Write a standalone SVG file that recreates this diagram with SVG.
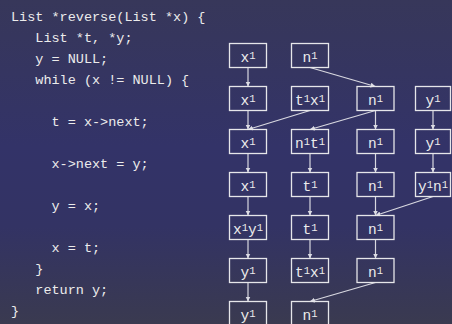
<svg xmlns="http://www.w3.org/2000/svg" width="452" height="324" viewBox="0 0 452 324">
<defs>
<linearGradient id="bg" x1="0" y1="0" x2="0" y2="1">
<stop offset="0" stop-color="#37375a"/>
<stop offset="0.45" stop-color="#333368"/>
<stop offset="0.7" stop-color="#333364"/>
<stop offset="1" stop-color="#3a3a50"/>
</linearGradient>
<marker id="ah" markerUnits="userSpaceOnUse" markerWidth="8" markerHeight="8" refX="5" refY="2.5" orient="auto">
<path d="M0,0 L5,2.5 L0,5 Z" fill="#dcdce4"/>
</marker>
</defs>
<style>
.code{font-family:"Liberation Mono","DejaVu Sans Mono",monospace;font-size:13.5px;fill:#ececec}
.box rect{fill:none;stroke:#e6e6ea;stroke-width:1.3}
.box text{font-family:"Liberation Mono","DejaVu Sans Mono",monospace;font-size:14.5px;fill:#ececec;text-anchor:middle}
.sup{font-size:10.5px}
#edges line{stroke:#d8d8e0;stroke-width:1.2;marker-end:url(#ah)}
</style>
<rect x="0" y="0" width="452" height="324" fill="url(#bg)"/>
<g id="code">
<text class="code" x="11" y="20.7">List *reverse(List *x) {</text>
<text class="code" x="35.3" y="41.7">List *t, *y;</text>
<text class="code" x="35.3" y="62.7">y = NULL;</text>
<text class="code" x="35.3" y="83.7">while (x != NULL) {</text>
<text class="code" x="51.5" y="125.7">t = x-&gt;next;</text>
<text class="code" x="51.5" y="167.7">x-&gt;next = y;</text>
<text class="code" x="51.5" y="209.7">y = x;</text>
<text class="code" x="51.5" y="251.7">x = t;</text>
<text class="code" x="35.3" y="272.7">}</text>
<text class="code" x="35.3" y="293.7">return y;</text>
<text class="code" x="11" y="314.7">}</text>
</g>
<g id="edges">
<line x1="248" y1="67.5" x2="248" y2="86.5"/>
<line x1="310" y1="67.5" x2="375.5" y2="86.5"/>
<line x1="248" y1="110.5" x2="248" y2="129.5"/>
<line x1="310" y1="110.5" x2="248" y2="129.5"/>
<line x1="375.5" y1="110.5" x2="310" y2="129.5"/>
<line x1="375.5" y1="110.5" x2="375.5" y2="129.5"/>
<line x1="433" y1="110.5" x2="433" y2="129.5"/>
<line x1="248" y1="153.5" x2="248" y2="172.5"/>
<line x1="310" y1="153.5" x2="310" y2="172.5"/>
<line x1="375.5" y1="153.5" x2="375.5" y2="172.5"/>
<line x1="433" y1="153.5" x2="433" y2="172.5"/>
<line x1="248" y1="196.5" x2="248" y2="215.5"/>
<line x1="310" y1="196.5" x2="310" y2="215.5"/>
<line x1="375.5" y1="196.5" x2="375.5" y2="215.5"/>
<line x1="433" y1="196.5" x2="375.5" y2="215.5"/>
<line x1="248" y1="239.5" x2="248" y2="258.5"/>
<line x1="310" y1="239.5" x2="310" y2="258.5"/>
<line x1="375.5" y1="239.5" x2="375.5" y2="258.5"/>
<line x1="248" y1="282.5" x2="248" y2="301.5"/>
<line x1="375.5" y1="282.5" x2="310" y2="301.5"/>
</g>
<g id="r1c1" class="box"><rect x="229.5" y="43.5" width="37" height="24"/><text x="248" y="62">x<tspan class="sup" dy="-3">1</tspan></text></g>
<g id="r1c2" class="box"><rect x="291.5" y="43.5" width="37" height="24"/><text x="310" y="62">n<tspan class="sup" dy="-3">1</tspan></text></g>
<g id="r2c1" class="box"><rect x="229.5" y="86.5" width="37" height="24"/><text x="248" y="105">x<tspan class="sup" dy="-3">1</tspan></text></g>
<g id="r2c2" class="box"><rect x="291.5" y="86.5" width="37" height="24"/><text x="310" y="105">t<tspan class="sup" dy="-3">1</tspan><tspan dy="3">x</tspan><tspan class="sup" dy="-3">1</tspan></text></g>
<g id="r2c3" class="box"><rect x="357" y="86.5" width="37" height="24"/><text x="375.5" y="105">n<tspan class="sup" dy="-3">1</tspan></text></g>
<g id="r2c4" class="box"><rect x="415.5" y="86.5" width="35" height="24"/><text x="433" y="105">y<tspan class="sup" dy="-3">1</tspan></text></g>
<g id="r3c1" class="box"><rect x="229.5" y="129.5" width="37" height="24"/><text x="248" y="148">x<tspan class="sup" dy="-3">1</tspan></text></g>
<g id="r3c2" class="box"><rect x="291.5" y="129.5" width="37" height="24"/><text x="310" y="148">n<tspan class="sup" dy="-3">1</tspan><tspan dy="3">t</tspan><tspan class="sup" dy="-3">1</tspan></text></g>
<g id="r3c3" class="box"><rect x="357" y="129.5" width="37" height="24"/><text x="375.5" y="148">n<tspan class="sup" dy="-3">1</tspan></text></g>
<g id="r3c4" class="box"><rect x="415.5" y="129.5" width="35" height="24"/><text x="433" y="148">y<tspan class="sup" dy="-3">1</tspan></text></g>
<g id="r4c1" class="box"><rect x="229.5" y="172.5" width="37" height="24"/><text x="248" y="191">x<tspan class="sup" dy="-3">1</tspan></text></g>
<g id="r4c2" class="box"><rect x="291.5" y="172.5" width="37" height="24"/><text x="310" y="191">t<tspan class="sup" dy="-3">1</tspan></text></g>
<g id="r4c3" class="box"><rect x="357" y="172.5" width="37" height="24"/><text x="375.5" y="191">n<tspan class="sup" dy="-3">1</tspan></text></g>
<g id="r4c4" class="box"><rect x="415.5" y="172.5" width="35" height="24"/><text x="433" y="191">y<tspan class="sup" dy="-3">1</tspan><tspan dy="3">n</tspan><tspan class="sup" dy="-3">1</tspan></text></g>
<g id="r5c1" class="box"><rect x="229.5" y="215.5" width="37" height="24"/><text x="248" y="234">x<tspan class="sup" dy="-3">1</tspan><tspan dy="3">y</tspan><tspan class="sup" dy="-3">1</tspan></text></g>
<g id="r5c2" class="box"><rect x="291.5" y="215.5" width="37" height="24"/><text x="310" y="234">t<tspan class="sup" dy="-3">1</tspan></text></g>
<g id="r5c3" class="box"><rect x="357" y="215.5" width="37" height="24"/><text x="375.5" y="234">n<tspan class="sup" dy="-3">1</tspan></text></g>
<g id="r6c1" class="box"><rect x="229.5" y="258.5" width="37" height="24"/><text x="248" y="277">y<tspan class="sup" dy="-3">1</tspan></text></g>
<g id="r6c2" class="box"><rect x="291.5" y="258.5" width="37" height="24"/><text x="310" y="277">t<tspan class="sup" dy="-3">1</tspan><tspan dy="3">x</tspan><tspan class="sup" dy="-3">1</tspan></text></g>
<g id="r6c3" class="box"><rect x="357" y="258.5" width="37" height="24"/><text x="375.5" y="277">n<tspan class="sup" dy="-3">1</tspan></text></g>
<g id="r7c1" class="box"><rect x="229.5" y="301.5" width="37" height="24"/><text x="248" y="320">y<tspan class="sup" dy="-3">1</tspan></text></g>
<g id="r7c2" class="box"><rect x="291.5" y="301.5" width="37" height="24"/><text x="310" y="320">n<tspan class="sup" dy="-3">1</tspan></text></g>
</svg>
